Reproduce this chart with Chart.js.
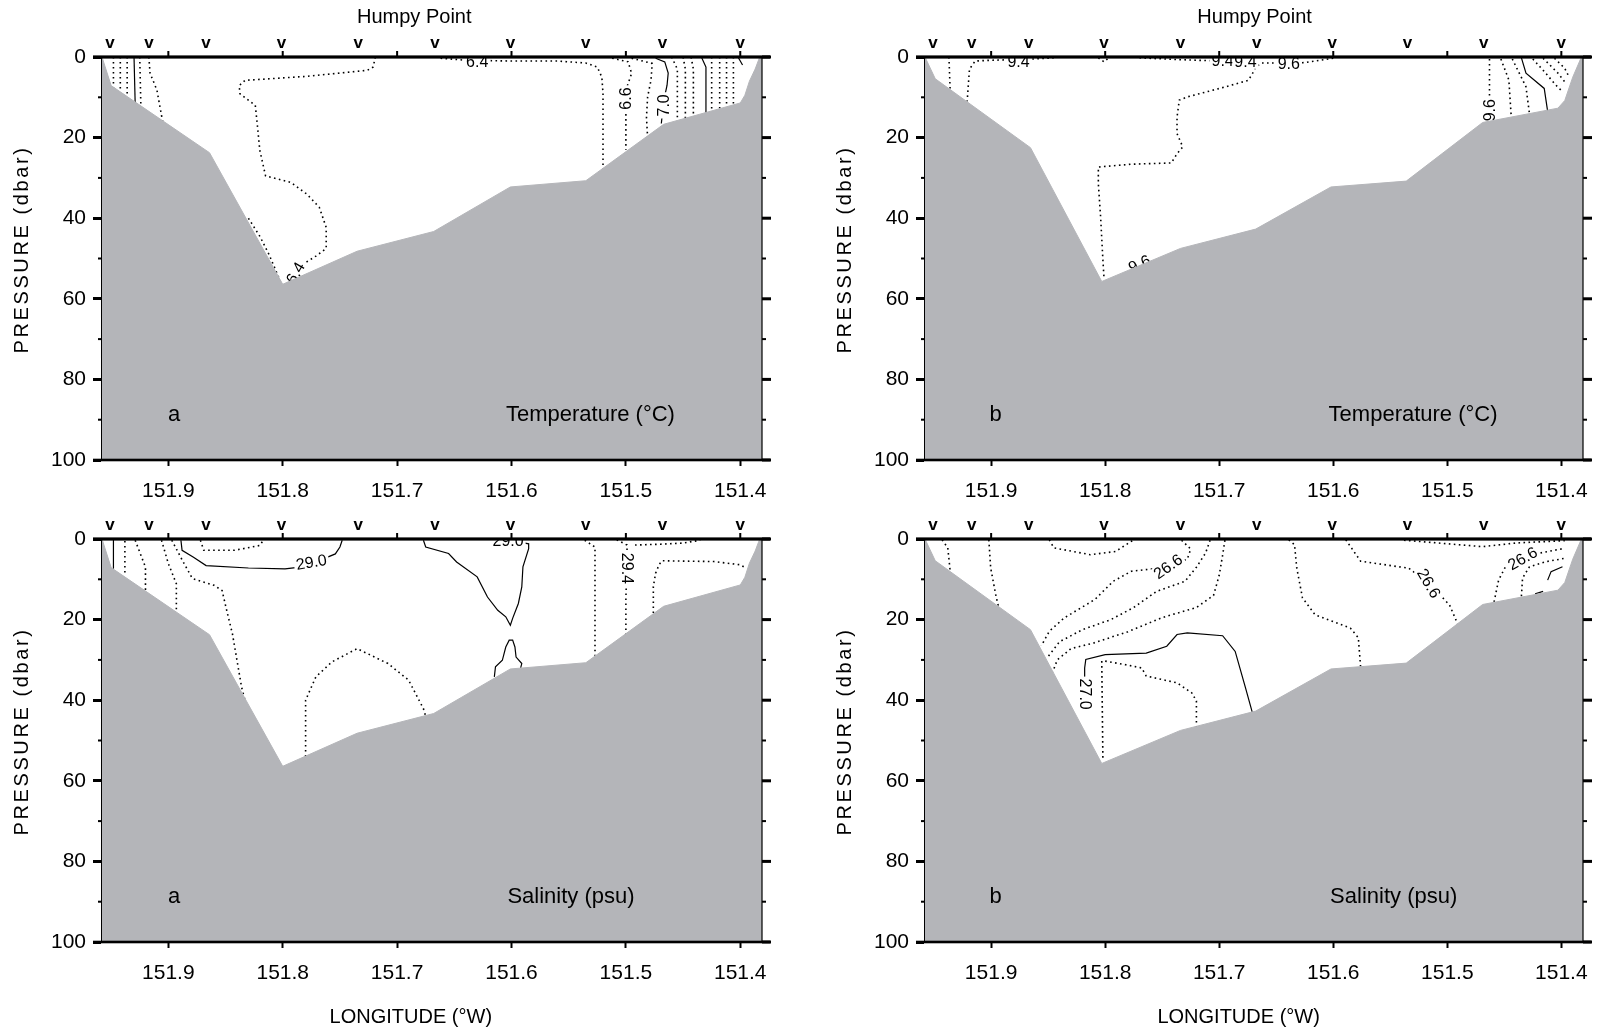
<!DOCTYPE html>
<html><head><meta charset="utf-8">
<script src="https://cdn.jsdelivr.net/npm/chart.js@4.4.1/dist/chart.umd.min.js"></script>
<style>
html,body{margin:0;padding:0;background:#fff;}
body{width:1602px;height:1032px;position:relative;overflow:hidden;}
canvas{position:absolute;}
</style></head><body>
<canvas id="cTL" width="801" height="516" style="left:0;top:0"></canvas>
<canvas id="cTR" width="801" height="516" style="left:801px;top:0"></canvas>
<canvas id="cBL" width="801" height="516" style="left:0;top:516px"></canvas>
<canvas id="cBR" width="801" height="516" style="left:801px;top:516px"></canvas>
<script>
// ---------------- DATA ----------------
const lonTicks = [151.9, 151.8, 151.7, 151.6, 151.5, 151.4];
const pressTicks = [0, 20, 40, 60, 80, 100];
const pressMinor = [10, 30, 50, 70, 90];
const stations = [151.951, 151.917, 151.867, 151.801, 151.734, 151.667, 151.601, 151.535, 151.468, 151.400];

// bottom profiles [lon, dbar]
const bathyA = [[151.958,0],[151.950,7.1],[151.864,23.75],[151.800,56.4],[151.735,48.2],[151.668,43.3],[151.601,32.25],[151.535,30.7],[151.467,16.7],[151.400,11.4],[151.396,9.5],[151.392,6],[151.387,3],[151.383,0],[151.381,0]];
const bathyB = [[151.958,0],[151.949,5.4],[151.8655,22.5],[151.803,55.7],[151.734,47.5],[151.668,42.7],[151.602,32.25],[151.536,30.8],[151.469,16.25],[151.403,12.7],[151.397,10.8],[151.390,5],[151.383,0.4],[151.381,0]];

// Temperature, section a
const tA1 = [[151.948,0],[151.948,7.6]];
const tA2 = [[151.942,0],[151.942,8.6]];
const tA3 = [[151.936,0],[151.936,9.8]];
const tA4 = [[151.930,0],[151.929,11.5]];
const tA5 = [[151.925,0],[151.924,12.5]];
const tA6 = [[151.917,0],[151.916,4],[151.910,8.2],[151.905,16]];
const tA7 = [[151.719,0],[151.721,2.5],[151.726,3.3],[151.779,4.8],[151.833,5.8],[151.838,7.1],[151.8375,9.1],[151.824,12],[151.822,17.4],[151.820,23.2],[151.815,29.5],[151.793,31.1],[151.779,34],[151.768,37.3],[151.762,42.3],[151.762,47.5],[151.771,49.4],[151.780,51],[151.788,52.7],[151.792,55.5]];
const tA8 = [[151.830,40],[151.820,44.5],[151.812,49],[151.806,53],[151.802,55.8]];
const tA9 = [[151.662,0.3],[151.640,0.8],[151.600,1.0],[151.560,1.0],[151.535,1.5],[151.525,2.5],[151.521,5],[151.520,9],[151.520,20],[151.520,28]];
const tA10 = [[151.512,0.3],[151.498,1.2],[151.495,4.1],[151.499,7.4],[151.500,10.2],[151.500,14.8],[151.500,23]];
const tA11 = [[151.495,0.3],[151.477,1.6],[151.478,5.7],[151.481,9.9],[151.482,14.9],[151.481,20]];
const tA12 = [[151.474,0.3],[151.466,1.2],[151.463,4],[151.464,7],[151.467,11],[151.469,16.5]];
const tA13 = [[151.460,0],[151.455,3],[151.455,16]];
const tA14 = [[151.450,0],[151.448,3],[151.448,15.5]];
const tA15 = [[151.443,0],[151.441,3],[151.441,15]];
const tA16 = [[151.434,0],[151.430,2.5],[151.430,14.5]];
const tA17 = [[151.425,0],[151.425,14]];
const tA18 = [[151.418,0],[151.418,13.5]];
const tA19 = [[151.412,0],[151.412,13]];
const tA20 = [[151.406,0],[151.406,12.5]];
const tA21 = [[151.402,0],[151.398,2]];
const tALabels = [["6.4",151.630,1.2],["6.6",151.500,10.3],["7.0",151.467,12],["6.4",151.789,53.6]];
const tAAngles = [0,-90,-90,-60];

// Temperature, section b
const tB1 = [[151.937,0],[151.936,7.8]];
const tB2 = [[151.845,0.2],[151.870,0.6],[151.900,0.8],[151.914,1],[151.919,3],[151.921,11]];
const tB3 = [[151.806,0.2],[151.801,1.2],[151.797,0.2]];
const tB4 = [[151.770,0.2],[151.740,0.6],[151.710,0.9],[151.690,1.0]];
const tB5 = [[151.600,0.3],[151.625,1.4],[151.650,1.5],[151.663,1.5],[151.668,2.5],[151.670,3.7],[151.6745,5.8],[151.697,7.6],[151.728,9.9],[151.735,10.7],[151.737,14.9],[151.737,19],[151.732,22.3],[151.737,24],[151.742,26.3],[151.777,26.6],[151.806,27.3],[151.806,31.4],[151.804,39.7],[151.802,50.4],[151.801,55]];
const tB6 = [[151.463,0.5],[151.463,9.4],[151.463,16]];
const tB7 = [[151.453,0.5],[151.446,5.7],[151.444,14.5]];
const tB8 = [[151.443,0.5],[151.431,7.4],[151.428,14]];
const tB9 = [[151.435,0.2],[151.431,4],[151.415,7.8],[151.412,13.5]];
const tB10 = [[151.425,0.5],[151.415,3.6],[151.405,6.9],[151.399,8.6]];
const tB11 = [[151.416,0.3],[151.403,4],[151.396,6.5]];
const tB12 = [[151.406,0.3],[151.397,2.8],[151.394,4.5]];
const tBLabels = [["9.4",151.876,1.2],["9.4",151.697,0.9],["9.4",151.677,1.2],["9.6",151.639,1.6],["9.6",151.463,13.2],["9.6",151.770,51.3]];
const tBAngles = [0,0,0,0,-90,-25];

// Salinity, section a
const sA1 = [[151.948,0],[151.948,7.4]];
const sA2 = [[151.938,0.5],[151.938,9.2]];
const sA3 = [[151.929,0.3],[151.920,7],[151.920,13]];
const sA4 = [[151.906,0.3],[151.900,6.1],[151.893,11.1],[151.893,17.5]];
const sA5 = [[151.897,0.3],[151.887,5.7],[151.879,9.8],[151.860,11.5],[151.853,12.8],[151.849,17.7],[151.844,23.5],[151.840,30.1],[151.836,36.7],[151.833,40]];
const sA6 = [[151.889,0.3],[151.888,2.8],[151.878,4.5],[151.867,6.6],[151.830,7.2],[151.798,7.4],[151.785,7],[151.765,5],[151.754,3.7],[151.750,2],[151.748,0.3]];
const sA7 = [[151.872,0.3],[151.869,2.8],[151.842,2.8],[151.820,1.6],[151.817,0.3]];
const sA8 = [[151.677,0.3],[151.675,2.0],[151.655,3.6],[151.648,5.7],[151.630,9.4],[151.621,14.4],[151.612,17.7],[151.605,19.3],[151.601,21.4],[151.599,19.7],[151.594,16],[151.591,11.9],[151.590,6.9],[151.585,2.4],[151.585,1.2],[151.594,0.7],[151.600,0.3]];
const sA9 = [[151.615,34.2],[151.614,31.7],[151.608,30.1],[151.605,26.8],[151.602,25.1],[151.599,25.1],[151.597,26.8],[151.596,29.3],[151.591,30.9],[151.592,32]];
const sA10 = [[151.780,54],[151.780,40],[151.771,34.2],[151.757,30.5],[151.735,27.2],[151.708,30.9],[151.690,35],[151.677,42.1],[151.675,44]];
const sA11 = [[151.536,0.3],[151.527,2],[151.527,29]];
const sA12 = [[151.508,0.2],[151.499,1.5],[151.499,6],[151.500,14.6],[151.500,24]];
const sA13 = [[151.492,1.5],[151.470,1.3],[151.450,1.0],[151.435,0.3]];
const sA14 = [[151.397,6.9],[151.400,6.4],[151.423,5.6],[151.4684,5.4],[151.471,6.4],[151.474,8.5],[151.476,11.8],[151.476,18.5]];
const sALabels = [["29.0",151.775,5.7],["29.0",151.603,0.4],["29.4",151.499,7.3]];
const sAAngles = [-10,0,90];

// Salinity, section b
const sB1 = [[151.943,0.2],[151.938,2.2],[151.936,7.8]];
const sB2 = [[151.902,0.2],[151.9004,7.2],[151.896,13.8],[151.893,17.5]];
const sB3 = [[151.849,0.2],[151.845,2.2],[151.813,3.9],[151.791,3.1],[151.775,0.2]];
const sB4 = [[151.733,0.3],[151.725,2.5],[151.728,5],[151.745,7],[151.777,8],[151.793,10.5],[151.809,15],[151.836,19.6],[151.849,22.9],[151.856,26.5]];
const sB5 = [[151.708,0.3],[151.712,3.5],[151.720,7],[151.730,10.5],[151.755,13],[151.775,17],[151.795,20],[151.820,22.5],[151.840,25.5],[151.851,29.5]];
const sB6 = [[151.695,0.3],[151.697,4],[151.700,9],[151.705,14],[151.720,17],[151.750,19.5],[151.780,23],[151.810,25.8],[151.830,27.2],[151.842,30],[151.846,33]];
const sB7 = [[151.818,40],[151.818,32],[151.817,29.9],[151.800,28.7],[151.764,28.3],[151.746,26.6],[151.737,23.7],[151.728,23.3],[151.697,24],[151.686,27.9],[151.677,36.9],[151.671,43]];
const sB8 = [[151.803,30.3],[151.802,55]];
const sB9 = [[151.800,30.3],[151.782,31.2],[151.768,32],[151.764,34],[151.737,35.7],[151.724,38.2],[151.720,40.2],[151.720,46.8]];
const sB10 = [[151.639,0.2],[151.634,1.4],[151.632,7.2],[151.627,14.6],[151.616,18.8],[151.585,22.1],[151.578,24.5],[151.576,31.8]];
const sB11 = [[151.589,0.2],[151.576,5.5],[151.540,7],[151.534,7.2],[151.516,11],[151.498,16.4],[151.491,21]];
const sB12 = [[151.538,0.3],[151.469,1.9],[151.440,1.0],[151.397,0.4]];
const sB13 = [[151.459,15.6],[151.455,10.2],[151.449,6.9],[151.434,4.8],[151.419,3.5],[151.397,2.3]];
const sB14 = [[151.435,14.2],[151.434,9.7],[151.428,6.9],[151.413,5.6],[151.397,4.8]];
const sB15 = [[151.412,10.2],[151.409,8.1],[151.399,6.9]];
const sB16 = [[151.423,13.6],[151.416,13]];
const sBLabels = [["26.6",151.745,6.8],["26.6",151.516,11],["26.6",151.434,4.8],["27.0",151.817,38.5]];
const sBAngles = [-35,60,-30,90];

// ---------------- DRAWING ----------------
const GRAY = '#b4b5b9';
const X_MIN = 151.381, X_MAX = 151.958;
const FONT = '"Liberation Sans", Arial, sans-serif';

function dotted(d){ return {d, solid:false}; }
function solid(d){ return {d, solid:true}; }

const panels = [
  {id:'cTL', L:102, R:762, T:57, B:460, xH:56, bathy:bathyA,
   lines:[dotted(tA1),dotted(tA2),dotted(tA3),solid(tA4),dotted(tA5),dotted(tA6),dotted(tA7),dotted(tA8),dotted(tA9),dotted(tA10),dotted(tA11),solid(tA12),dotted(tA13),dotted(tA14),dotted(tA15),solid(tA16),dotted(tA17),dotted(tA18),dotted(tA19),dotted(tA20),solid(tA21)],
   labels:tALabels, angles:tAAngles, letter:'a', letterLon:151.895, title:'Temperature (°C)', titleLon:151.531, humpyLon:151.685, xTitleLon:null},
  {id:'cTR', L:124, R:782, T:57, B:460, xH:56, bathy:bathyB,
   lines:[dotted(tB1),dotted(tB2),dotted(tB3),dotted(tB4),dotted(tB5),dotted(tB6),dotted(tB7),dotted(tB8),solid(tB9),dotted(tB10),dotted(tB11),dotted(tB12)],
   labels:tBLabels, angles:tBAngles, letter:'b', letterLon:151.896, title:'Temperature (°C)', titleLon:151.530, humpyLon:151.669, xTitleLon:null},
  {id:'cBL', L:102, R:762, T:23, B:426, xH:90, bathy:bathyA,
   lines:[solid(sA1),dotted(sA2),dotted(sA3),dotted(sA4),dotted(sA5),solid(sA6),dotted(sA7),solid(sA8),solid(sA9),dotted(sA10),dotted(sA11),dotted(sA12),dotted(sA13),dotted(sA14)],
   labels:sALabels, angles:sAAngles, letter:'a', letterLon:151.895, title:'Salinity (psu)', titleLon:151.548, humpyLon:null, xTitleLon:151.688},
  {id:'cBR', L:124, R:782, T:23, B:426, xH:90, bathy:bathyB,
   lines:[dotted(sB1),dotted(sB2),dotted(sB3),dotted(sB4),dotted(sB5),dotted(sB6),solid(sB7),dotted(sB8),dotted(sB9),dotted(sB10),dotted(sB11),dotted(sB12),dotted(sB13),dotted(sB14),solid(sB15),solid(sB16)],
   labels:sBLabels, angles:sBAngles, letter:'b', letterLon:151.896, title:'Salinity (psu)', titleLon:151.547, humpyLon:null, xTitleLon:151.683}
];

function toXY(arr){ return arr.map(p => ({x:p[0], y:p[1]})); }

function drawLabels(chart){
  const o = chart.options.plugins.deco;
  const {ctx, chartArea:a, scales:{x, y}} = chart;
  ctx.save();
  ctx.beginPath(); ctx.rect(a.left, a.top, a.right - a.left, a.bottom - a.top); ctx.clip();
  ctx.font = '16px ' + FONT; ctx.textAlign = 'center'; ctx.textBaseline = 'middle';
  o.labels.forEach((lb, i) => {
    const px = x.getPixelForValue(lb[1]), py = y.getPixelForValue(lb[2]);
    ctx.save(); ctx.translate(px, py); ctx.rotate((o.angles[i] || 0) * Math.PI / 180);
    const w = ctx.measureText(lb[0]).width;
    ctx.fillStyle = '#fff'; ctx.fillRect(-w/2 - 2, -7, w + 4, 14);
    ctx.fillStyle = '#000'; ctx.fillText(lb[0], 0, 1);
    ctx.restore();
  });
  ctx.restore();
}

function drawDeco(chart){
  const o = chart.options.plugins.deco;
  const {ctx, chartArea:a, scales:{x, y}} = chart;
  ctx.save();
  ctx.fillStyle = '#000';
  // frame
  ctx.fillRect(a.right - 0.6, a.top, 1.2, a.bottom - a.top);
  ctx.fillRect(a.left - 9, a.top - 1.6, a.right - a.left + 17, 3.2);
  ctx.fillRect(a.left - 9, a.bottom - 1.3, a.right - a.left + 17, 2.6);
  // right & minor ticks
  pressTicks.forEach(v => { const py = y.getPixelForValue(v); ctx.fillRect(a.right, py - 1.5, 9, 3); });
  pressMinor.forEach(v => { const py = y.getPixelForValue(v); ctx.fillRect(a.left - 4, py - 1, 4, 2); ctx.fillRect(a.right, py - 1, 4, 2); });
  // top ticks
  lonTicks.forEach(v => { const px = x.getPixelForValue(v); ctx.fillRect(px - 1, a.top - 6, 2, 6); });
  // stations
  ctx.font = 'bold 17px ' + FONT; ctx.textAlign = 'center'; ctx.textBaseline = 'middle';
  stations.forEach(s => ctx.fillText('v', x.getPixelForValue(s), a.top - 14));
  // panel texts
  ctx.font = '22px ' + FONT;
  const ty = y.getPixelForValue(88.8);
  ctx.fillText(o.letter, x.getPixelForValue(o.letterLon), ty);
  ctx.fillText(o.title, x.getPixelForValue(o.titleLon), ty);
  if (o.humpyLon !== null) {
    ctx.font = '20px ' + FONT;
    ctx.fillText('Humpy Point', x.getPixelForValue(o.humpyLon), a.top - 40);
  }
  if (o.xTitleLon !== null) {
    ctx.font = '20px ' + FONT;
    ctx.fillText('LONGITUDE (°W)', x.getPixelForValue(o.xTitleLon), a.bottom + 75);
  }
  // y title
  ctx.save();
  ctx.translate(a.left - 80, (a.top + a.bottom) / 2 - 9);
  ctx.rotate(-Math.PI / 2);
  ctx.font = '20px ' + FONT;
  ctx.letterSpacing = '2.6px';
  ctx.fillText('PRESSURE (dbar)', 0, 0);
  ctx.restore();
  ctx.restore();
}

const decoPlugin = {
  id: 'deco',
  afterDatasetDraw(chart, args){ if (args.index === 1) drawLabels(chart); },
  afterDraw(chart){ drawDeco(chart); }
};

panels.forEach(p => {
  const datasets = [{
    data: toXY(p.bathy), borderColor: GRAY, borderWidth: 1, backgroundColor: GRAY,
    fill: {value: 100}, pointRadius: 0, order: 0, tension: 0
  }];
  p.lines.forEach(l => datasets.push({
    data: toXY(l.d), borderColor: '#000', borderWidth: l.solid ? 1.2 : 1.6,
    borderDash: l.solid ? [] : [1.6, 3.4], borderCapStyle: 'butt',
    pointRadius: 0, fill: false, order: 1, tension: 0
  }));
  const canvas = document.getElementById(p.id);
  new Chart(canvas, {
    type: 'line',
    data: { datasets },
    plugins: [decoPlugin],
    options: {
      responsive: false, animation: false, devicePixelRatio: 1,
      layout: { padding: { left: 0, top: p.T, right: 801 - p.R, bottom: 516 - p.B - p.xH } },
      plugins: { legend: {display: false}, tooltip: {enabled: false},
        deco: { labels: p.labels, angles: p.angles, letter: p.letter, letterLon: p.letterLon, title: p.title, titleLon: p.titleLon, humpyLon: p.humpyLon, xTitleLon: p.xTitleLon } },
      scales: {
        x: { type: 'linear', min: X_MIN, max: X_MAX, reverse: true,
          afterBuildTicks: s => { s.ticks = lonTicks.map(v => ({value: v})); },
          afterFit: s => { s.height = p.xH; s.paddingLeft = 0; s.paddingRight = 0; },
          ticks: { callback: v => v.toFixed(1), font: {family: FONT, size: 21}, color: '#000', padding: 13, maxRotation: 0, autoSkip: false },
          grid: { display: true, drawOnChartArea: false, drawTicks: true, tickLength: 6, tickWidth: 2, tickColor: '#000' },
          border: { display: false }
        },
        y: { type: 'linear', min: 0, max: 100, reverse: true,
          afterBuildTicks: s => { s.ticks = pressTicks.map(v => ({value: v})); },
          afterFit: s => { s.width = p.L; s.paddingTop = 0; s.paddingBottom = 0; },
          ticks: { font: {family: FONT, size: 21}, color: '#000', padding: 7 },
          grid: { display: true, drawOnChartArea: false, drawTicks: true, tickLength: 9, tickWidth: 3, tickColor: '#000' },
          border: { display: true, color: '#000', width: 1.2 }
        }
      }
    }
  });
});
</script>
</body></html>
